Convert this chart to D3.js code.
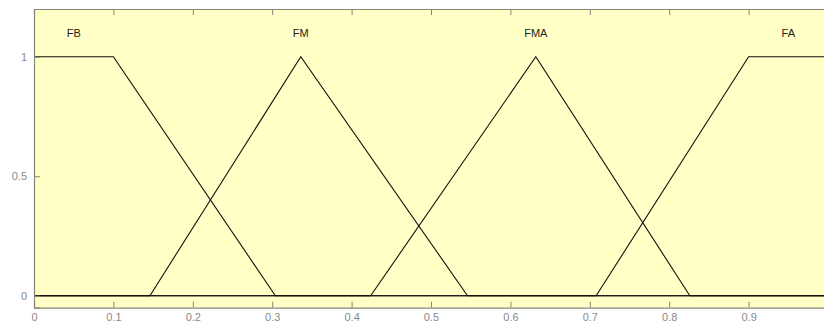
<!DOCTYPE html>
<html>
<head>
<meta charset="utf-8">
<script src="https://cdn.jsdelivr.net/npm/d3@7/dist/d3.min.js"></script>
<style>
  html, body { margin: 0; padding: 0; background: #ffffff; overflow: hidden; }
  svg { display: block; }
  .tick text { font-family: "Liberation Sans", Arial, sans-serif; font-size: 11px; fill: #8a8a8a; }
</style>
</head>
<body>
<svg id="chart" width="824" height="329"></svg>
<script>
// ---- data ----
const xTicks = [0, 0.1, 0.2, 0.3, 0.4, 0.5, 0.6, 0.7, 0.8, 0.9];
const yTicks = [0, 0.5, 1];
const mfNames = ["FB", "FM", "FMA", "FA"];
// membership function breakpoints (trapezoid: a,b,c,d ; triangle: a,b,c)
const fbParams  = [0, 0, 0.1, 0.304];
const fmParams  = [0.146, 0.336, 0.546];
const fmaParams = [0.424, 0.632, 0.826];
const faParams  = [0.708, 0.9, 1, 1];
const xRange = [0, 1];
const yRange = [-0.05, 1.2];

// ---- layout ----
const mLeft = 34, mRight = 828, mTop = 9, mBottom = 307.7;

const svg = d3.select("#chart");
const x = d3.scaleLinear().domain(xRange).range([mLeft, mRight]);
const y = d3.scaleLinear().domain(yRange).range([mBottom, mTop]);

// axes background
svg.append("rect")
  .attr("x", x(xRange[0])).attr("y", y(yRange[1]))
  .attr("width", x(xRange[1]) - x(xRange[0]))
  .attr("height", y(yRange[0]) - y(yRange[1]))
  .attr("fill", "#ffffc6");

function toTrap(p) {
  return p.length === 3 ? [p[0], p[1], p[1], p[2]] : p;
}
function mfPoints(p) {
  const [a, b, c, d] = toTrap(p);
  const f = v => {
    if (v < a || v > d) return 0;
    if (v >= b && v <= c) return 1;
    if (v < b) return (v - a) / (b - a);
    return (d - v) / (d - c);
  };
  const xs = [xRange[0], a, b, c, d, xRange[1]].filter(v => v >= xRange[0] && v <= xRange[1]);
  const uniq = Array.from(new Set(xs)).sort((m, n) => m - n);
  return uniq.map(v => [v, f(v)]);
}

const mfs = [fbParams, fmParams, fmaParams, faParams];
const line = d3.line().x(d => x(d[0])).y(d => y(d[1]));

mfs.forEach((p, i) => {
  svg.append("path")
    .attr("d", line(mfPoints(p)))
    .attr("fill", "none")
    .attr("stroke", "#111")
    .attr("stroke-width", 1.1);
  const t = toTrap(p);
  svg.append("text")
    .attr("x", x((t[1] + t[2]) / 2))
    .attr("y", y(1.1))
    .attr("dy", "0.35em")
    .attr("text-anchor", "middle")
    .attr("font-family", "Liberation Sans, Arial, sans-serif")
    .attr("font-size", 11)
    .attr("fill", "#222")
    .text(mfNames[i]);
});

// axes
const axisColor = "#858578";
const gB = svg.append("g").attr("transform", `translate(0,${mBottom})`)
  .call(d3.axisBottom(x).tickValues(xTicks).tickSize(-6).tickPadding(6).tickFormat(d3.format("")));
const gT = svg.append("g").attr("transform", `translate(0,${mTop})`)
  .call(d3.axisTop(x).tickValues(xTicks).tickSize(-6).tickFormat(""));
const gL = svg.append("g").attr("transform", `translate(${mLeft},0)`)
  .call(d3.axisLeft(y).tickValues(yTicks).tickSize(-6).tickPadding(7).tickFormat(d3.format("")));
[gB, gT, gL].forEach(g => {
  g.select(".domain").attr("stroke", axisColor).attr("stroke-width", 1.2);
  g.selectAll(".tick line").attr("stroke", axisColor);
});
</script>
</body>
</html>
